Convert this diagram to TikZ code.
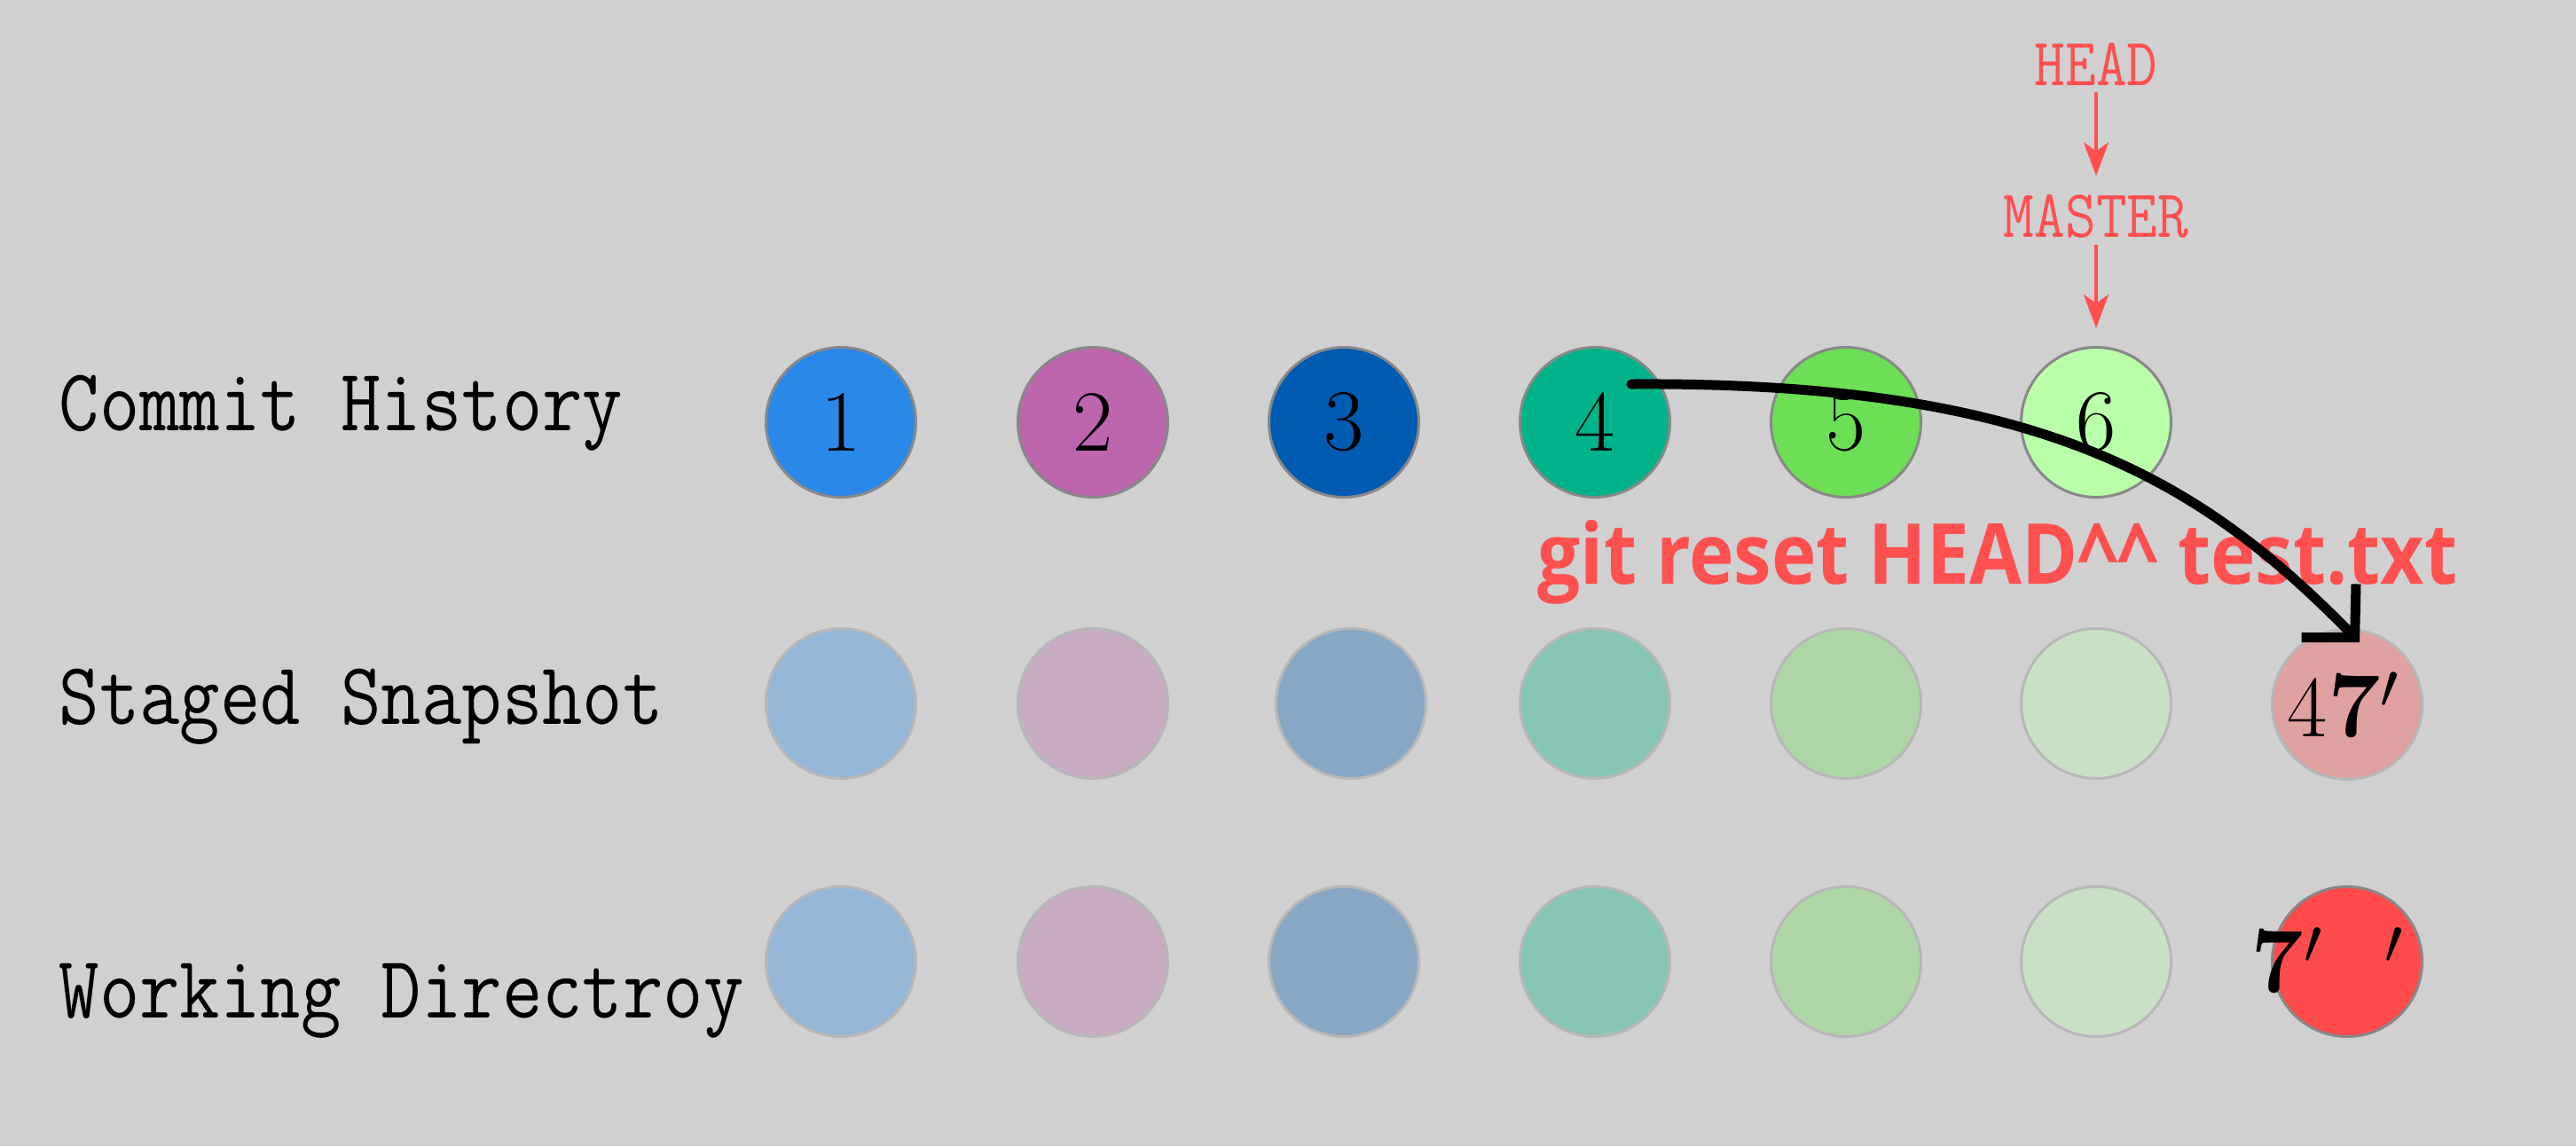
\documentclass[tikz,border=0pt]{standalone}
\usepackage{fontspec}
\usepackage{graphicx}
\usetikzlibrary{arrows.meta}

\newfontfamily\cmdfont{Open Sans}

\definecolor{bggray}{HTML}{D0D0D0}
\definecolor{refred}{HTML}{FF5050}
\definecolor{edgegray}{HTML}{888888}
\definecolor{cone}{HTML}{2A88E8}
\definecolor{ctwo}{HTML}{BD66AE}
\definecolor{cthree}{HTML}{005BB2}
\definecolor{cfour}{HTML}{00B38A}
\definecolor{cfive}{HTML}{6CDF56}
\definecolor{csix}{HTML}{B9FFAA}
\definecolor{cseven}{HTML}{FF4B4B}

\newcommand{\monotext}[1]{\scalebox{0.88}[1]{\ttfamily #1}}

\tikzset{
    commit/.style={circle, draw=edgegray, line width=0.03cm, minimum size=1.69cm, inner sep=0pt, font=\fontsize{28}{30}\selectfont},
    ghost/.style={commit, draw=edgegray!35!bggray, fill=#1!35!bggray},
    rowlabel/.style={anchor=base west, inner sep=0pt, font=\fontsize{28.5}{30}\selectfont},
    reflabel/.style={anchor=base, inner sep=0pt, text=refred, font=\fontsize{21.8}{24}\selectfont},
    refarrow/.style={draw=refred, line width=0.045cm, -{Stealth[length=0.38cm, width=0.28cm, inset=0.1cm]}, shorten <=0.07cm, shorten >=0.2cm},
    resetarrow/.style={line width=0.11cm, line cap=round, line join=round, -{Straight Barb[length=0.42cm, width=0.86cm]}}
}

\begin{document}
\begin{tikzpicture}
    % Background
    \fill[bggray] (0,0) rectangle (29.04,-12.92);
    \useasboundingbox (0,0) rectangle (29.04,-12.92);

    % Row labels
    \node[rowlabel] (lcommit) at (0.66,-4.85) {\monotext{Commit History}};
    \node[rowlabel] (lstaged) at (0.66,-8.16) {\monotext{Staged Snapshot}};
    \node[rowlabel] (lwork) at (0.66,-11.47) {\monotext{Working Directroy}};

    % Commits, staged and working copies
    \foreach \i/\x/\col/\dx in {1/9.48/cone/0, 2/12.32/ctwo/0, 3/15.15/cthree/0.08, 4/17.98/cfour/0, 5/20.81/cfive/0, 6/23.63/csix/0} {
        \node[commit, fill=\col] (c\i) at (\x,-4.76) {\i};
        \node[ghost=\col] (s\i) at (\x+\dx,-7.93) {};
        \node[ghost=\col] (w\i) at (\x,-10.84) {};
    }

    % Reset result
    \node[ghost=cseven] (s7) at (26.46,-7.94) {};
    \node[commit, fill=cseven] (w7) at (26.46,-10.84) {};
    \node[anchor=base, inner sep=0pt, font=\fontsize{28}{30}\selectfont] (s7txt) at ([shift={(-0.04,-0.36)}]s7.center) {4{\fontsize{30}{32}\selectfont\bfseries 7}$'$};
    \node[anchor=base west, inner sep=0pt, font=\fontsize{30}{32}\selectfont\bfseries] (w7txt) at ([shift={(-1.09,-0.34)}]w7.center) {7$'$\hspace{0.7cm}$'$};

    % HEAD and MASTER
    \node[reflabel] (head) at (23.63,-0.96) {\monotext{HEAD}};
    \node[reflabel] (master) at (23.63,-2.67) {\monotext{MASTER}};
    \draw[refarrow] (head) -- (master);
    \draw[refarrow] (master) -- (c6);

    % Command
    \node[anchor=base, inner sep=0pt, text=refred, font=\cmdfont\bfseries\fontsize{27}{30}\selectfont] (cmd) at (22.52,-6.58) {\scalebox{0.9}[1]{git reset HEAD\textasciicircum\textasciicircum{} test.txt}};

    % Reset arrow
    \coordinate (from4) at ([shift={(0.41,0.43)}]c4.center);
    \coordinate (to7) at ([shift={(0.14,0.70)}]s7.center);
    \draw[resetarrow] (from4) .. controls (23.00,-4.30) and (24.80,-5.40) .. (to7);
\end{tikzpicture}
\end{document}
